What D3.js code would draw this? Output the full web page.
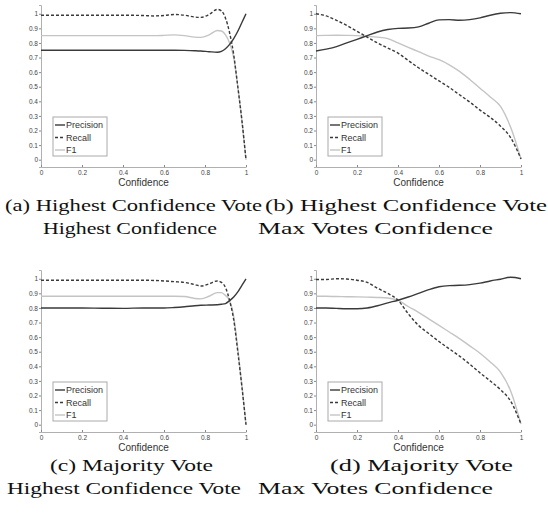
<!DOCTYPE html>
<html>
<head>
<meta charset="utf-8">
<script src="https://cdn.jsdelivr.net/npm/d3@7"></script>
<style>
  body { margin: 0; background: #fff; }
  svg { display: block; }
</style>
</head>
<body>
<div id="chart"></div>
<script>
const width = 548;
const height = 520;

// (a) Highest Confidence Vote / Highest Confidence
const confA = [0, 0.1, 0.2, 0.3, 0.4, 0.5, 0.55, 0.6, 0.65, 0.7, 0.75, 0.78, 0.82, 0.86, 0.88, 0.9, 0.92, 0.94, 0.96, 0.98, 1];
const precisionA = [0.75, 0.75, 0.75, 0.75, 0.75, 0.75, 0.75, 0.75, 0.75, 0.749, 0.747, 0.745, 0.74, 0.736, 0.742, 0.76, 0.79, 0.83, 0.88, 0.94, 1];
const recallA = [0.99, 0.99, 0.99, 0.99, 0.99, 0.988, 0.985, 0.988, 0.995, 0.99, 0.978, 0.975, 0.995, 1.03, 1.02, 0.97, 0.87, 0.72, 0.5, 0.27, 0];
const f1A = [0.85, 0.85, 0.85, 0.85, 0.85, 0.85, 0.85, 0.852, 0.855, 0.85, 0.84, 0.838, 0.855, 0.885, 0.882, 0.855, 0.8, 0.7, 0.5, 0.27, 0];

// (b) Highest Confidence Vote / Max Votes Confidence
const confB = [0, 0.05, 0.1, 0.15, 0.2, 0.25, 0.3, 0.35, 0.4, 0.45, 0.5, 0.55, 0.6, 0.65, 0.7, 0.75, 0.8, 0.85, 0.9, 0.95, 1];
const precisionB = [0.745, 0.758, 0.775, 0.8, 0.825, 0.85, 0.875, 0.892, 0.9, 0.902, 0.91, 0.935, 0.958, 0.96, 0.955, 0.96, 0.972, 0.99, 1.003, 1.008, 1];
const recallB = [1, 0.985, 0.955, 0.92, 0.88, 0.84, 0.8, 0.765, 0.73, 0.68, 0.63, 0.585, 0.54, 0.495, 0.445, 0.395, 0.34, 0.29, 0.23, 0.15, 0.005];
const f1B = [0.85, 0.852, 0.853, 0.852, 0.85, 0.845, 0.84, 0.83, 0.8, 0.77, 0.74, 0.71, 0.685, 0.65, 0.605, 0.55, 0.49, 0.43, 0.365, 0.22, 0.005];

// (c) Majority Vote / Highest Confidence Vote
const confC = [0, 0.1, 0.2, 0.3, 0.4, 0.5, 0.6, 0.65, 0.7, 0.75, 0.78, 0.82, 0.86, 0.88, 0.9, 0.92, 0.94, 0.96, 0.98, 1];
const precisionC = [0.8, 0.8, 0.8, 0.798, 0.797, 0.8, 0.8, 0.803, 0.808, 0.815, 0.818, 0.82, 0.822, 0.825, 0.83, 0.85, 0.875, 0.91, 0.955, 1];
const recallC = [0.99, 0.99, 0.99, 0.99, 0.99, 0.99, 0.985, 0.98, 0.975, 0.96, 0.95, 0.965, 0.985, 0.975, 0.94, 0.85, 0.72, 0.5, 0.26, 0];
const f1C = [0.88, 0.88, 0.88, 0.88, 0.88, 0.88, 0.88, 0.88, 0.878, 0.865, 0.862, 0.88, 0.905, 0.905, 0.885, 0.85, 0.74, 0.52, 0.27, 0];

// (d) Majority Vote / Max Votes Confidence
const confD = [0, 0.05, 0.1, 0.15, 0.2, 0.25, 0.3, 0.35, 0.4, 0.45, 0.5, 0.55, 0.6, 0.65, 0.7, 0.75, 0.8, 0.85, 0.9, 0.95, 1];
const precisionD = [0.8, 0.8, 0.797, 0.795, 0.795, 0.8, 0.815, 0.835, 0.853, 0.875, 0.9, 0.925, 0.945, 0.953, 0.955, 0.96, 0.97, 0.985, 0.997, 1.01, 1];
const recallD = [0.995, 0.995, 1, 0.998, 0.99, 0.975, 0.935, 0.9, 0.853, 0.76, 0.68, 0.625, 0.57, 0.52, 0.47, 0.415, 0.355, 0.3, 0.24, 0.16, 0.005];
const f1D = [0.88, 0.88, 0.878, 0.877, 0.876, 0.874, 0.872, 0.868, 0.853, 0.81, 0.77, 0.725, 0.68, 0.635, 0.59, 0.54, 0.49, 0.43, 0.36, 0.23, 0.005];

const yTicks = [0, 0.1, 0.2, 0.3, 0.4, 0.5, 0.6, 0.7, 0.8, 0.9, 1];
const xTicks = [0, 0.2, 0.4, 0.6, 0.8, 1];
const seriesNames = ["Precision", "Recall", "F1"];

const captions = [
  { lines: ["(a) Highest Confidence Vote", "Highest Confidence"] },
  { lines: ["(b) Highest Confidence Vote", "Max Votes Confidence"] },
  { lines: ["(c) Majority Vote", "Highest Confidence Vote"] },
  { lines: ["(d) Majority Vote", "Max Votes Confidence"] },
];

const panels = [
  { left: 41, top: 5, conf: confA, p: precisionA, r: recallA, f: f1A },
  { left: 316, top: 5, conf: confB, p: precisionB, r: recallB, f: f1B },
  { left: 41, top: 270, conf: confC, p: precisionC, r: recallC, f: f1C },
  { left: 316, top: 270, conf: confD, p: precisionD, r: recallD, f: f1D },
];

// caption placement: [x start, x end, baseline] per line
const captionPos = [
  [[5, 262, 211], [43, 217, 234]],
  [[265, 547, 211], [258, 493, 234]],
  [[50, 213, 471], [7, 241, 494]],
  [[330, 513, 471], [258, 493, 494]],
];

const styles = [
  { stroke: "#3a3a3a", dash: null },
  { stroke: "#3a3a3a", dash: "3,2" },
  { stroke: "#c4c4c4", dash: null },
];

const svg = d3.select("#chart").append("svg")
  .attr("width", width)
  .attr("height", height);

const plotW = 205;
const plotH = 162;

panels.forEach((pn, i) => {
  const g = svg.append("g").attr("transform", `translate(${pn.left},${pn.top})`);
  const x = d3.scaleLinear().domain([0, 1]).range([0, plotW]);
  const y = d3.scaleLinear().domain([-0.05, 1.06]).range([plotH, 0]);

  // y axis
  const yAxis = g.append("g")
    .call(d3.axisLeft(y).tickValues(yTicks).tickSize(2).tickPadding(1)
      .tickFormat(d3.format("~g")));
  // x axis
  const xAxis = g.append("g")
    .attr("transform", `translate(0,${plotH})`)
    .call(d3.axisBottom(x).tickValues(xTicks).tickSizeInner(-2).tickSizeOuter(0).tickPadding(3)
      .tickFormat(d3.format("~g")));
  [yAxis, xAxis].forEach((ax) => {
    ax.select(".domain").attr("stroke", "#b0b0b0").attr("stroke-width", 1);
    ax.selectAll(".tick line").attr("stroke", "#888");
    ax.selectAll(".tick text")
      .attr("fill", "#444")
      .style("font-family", "'Liberation Sans', Arial, sans-serif")
      .style("font-size", "6.5px");
  });

  g.append("text")
    .attr("x", plotW / 2)
    .attr("y", plotH + 19)
    .attr("text-anchor", "middle")
    .attr("fill", "#333")
    .style("font-family", "'Liberation Sans', Arial, sans-serif")
    .style("font-size", "10px")
    .text("Confidence");

  const line = d3.line()
    .x((d) => x(d[0]))
    .y((d) => y(d[1]))
    .curve(d3.curveMonotoneX);

  const series = [pn.p, pn.r, pn.f];
  // draw F1 first so the darker curves sit on top
  [2, 0, 1].forEach((k) => {
    const pts = pn.conf.map((c, j) => [c, series[k][j]]);
    g.append("path")
      .datum(pts)
      .attr("d", line)
      .attr("fill", "none")
      .attr("stroke", styles[k].stroke)
      .attr("stroke-width", 1.4)
      .attr("stroke-dasharray", styles[k].dash);
  });

  // legend
  const lg = g.append("g").attr("transform", "translate(12,112)");
  lg.append("rect")
    .attr("width", 54)
    .attr("height", 39)
    .attr("fill", "#fff")
    .attr("stroke", "#aaa")
    .attr("stroke-width", 1);
  seriesNames.forEach((name, k) => {
    const ly = 8 + k * 12.5;
    lg.append("line")
      .attr("x1", 2).attr("x2", 12)
      .attr("y1", ly).attr("y2", ly)
      .attr("stroke", styles[k].stroke)
      .attr("stroke-width", 1.4)
      .attr("stroke-dasharray", styles[k].dash);
    lg.append("text")
      .attr("x", 13)
      .attr("y", ly + 3.2)
      .attr("fill", "#333")
      .style("font-family", "'Liberation Sans', Arial, sans-serif")
      .style("font-size", "9px")
      .text(name);
  });

  // caption
  captions[i].lines.forEach((txt, li) => {
    const [x0, x1, base] = captionPos[i][li];
    svg.append("text")
      .attr("x", x0)
      .attr("y", base)
      .attr("textLength", x1 - x0)
      .attr("lengthAdjust", "spacingAndGlyphs")
      .attr("fill", "#111")
      .style("font-family", "'Liberation Serif', 'DejaVu Serif', serif")
      .style("font-size", "16px")
      .text(txt);
  });
});
</script>
</body>
</html>
